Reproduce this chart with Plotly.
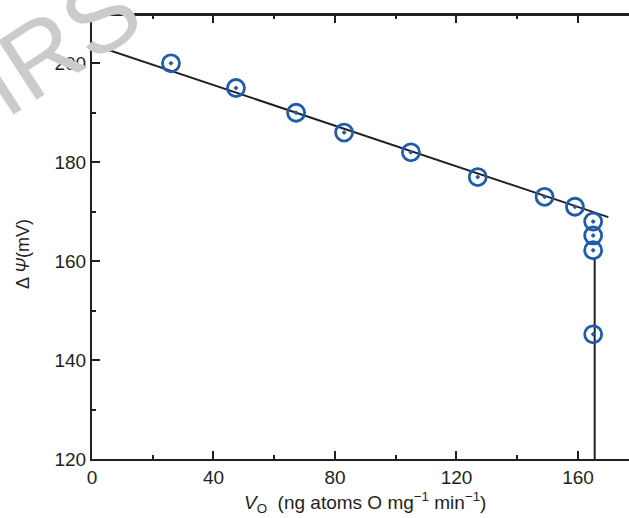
import plotly.graph_objects as go

# Data
vo = [26, 47.4, 67.2, 83, 105, 127, 149, 159, 165, 165, 165, 165]
psi = [200, 195, 190, 186, 182, 177, 173, 171, 168, 165.2, 162.2, 145.2]

fit_x = [0, 170]
fit_y = [203.8, 168.9]

vert_x = [165.5, 165.5]
vert_y = [160.6, 120]

x_ticks = [0, 40, 80, 120, 160]
y_ticks = [120, 140, 160, 180, 200]
x_range = [0, 176.8]
y_range = [120, 209.76]

FONT = "Liberation Sans, Arial, Helvetica, sans-serif"
BLUE = "#1f5cab"
INK = "#231f20"

fig = go.Figure()
fig.add_trace(go.Scatter(x=fit_x, y=fit_y, mode="lines",
                         line=dict(color=INK, width=2), showlegend=False))
fig.add_trace(go.Scatter(x=vert_x, y=vert_y, mode="lines",
                         line=dict(color=INK, width=2), showlegend=False))
fig.add_trace(go.Scatter(x=vo, y=psi, mode="markers",
                         marker=dict(symbol="circle-open-dot", size=17,
                                     color=BLUE, line=dict(color=BLUE, width=2.8)),
                         showlegend=False))

W, H = 629, 518
L, R, T, B = 92, 0, 15, 59
pw, ph = W - L - R, H - T - B

def px(xp):
    return (xp - L) / pw

def py(yp):
    return (H - B - yp) / ph

fig.update_layout(
    width=W, height=H,
    margin=dict(l=L, r=R, t=T, b=B, autoexpand=False),
    paper_bgcolor="white", plot_bgcolor="white",
    font=dict(family=FONT, size=19, color=INK),
    xaxis=dict(range=x_range, tickvals=x_ticks, ticktext=[str(v) for v in x_ticks],
               ticks="inside", ticklen=8, tickwidth=1.5, tickcolor=INK,
               showline=True, linecolor=INK, linewidth=2, mirror="allticks",
               showgrid=False, zeroline=False,
               minor=dict(dtick=20, tick0=0, ticks="inside", ticklen=4, tickcolor=INK, tickwidth=1.5, showgrid=False),
               tickfont=dict(size=19, family=FONT, color=INK)),
    yaxis=dict(range=y_range, tickvals=y_ticks, ticktext=[str(v) for v in y_ticks],
               ticks="inside", ticklen=8, tickwidth=1.5, tickcolor=INK,
               showline=True, linecolor=INK, linewidth=2,
               showgrid=False, zeroline=False,
               minor=dict(dtick=10, tick0=120, ticks="inside", ticklen=4, tickcolor=INK, tickwidth=1.5, showgrid=False),
               tickfont=dict(size=19, family=FONT, color=INK)),
    shapes=[dict(type="line", xref="paper", yref="paper", x0=0, x1=1, y0=1, y1=1,
                 line=dict(color=INK, width=2), layer="above")],
    annotations=[
        dict(text="IRS", x=px(58), y=py(44), xref="paper", yref="paper",
             showarrow=False, textangle=-33, font=dict(size=102, color="#cbcbcb", family=FONT),
             xanchor="center", yanchor="middle"),
        dict(text="Δ <i>Ψ</i>(mV)", x=px(23), y=py(254), xref="paper", yref="paper",
             showarrow=False, textangle=-90, font=dict(size=18, color=INK, family=FONT),
             xanchor="center", yanchor="middle"),
        dict(text="<i>V</i><sub>O</sub>  (ng atoms O mg<sup>−1</sup> min<sup>−1</sup>)",
             x=px(365), y=py(502), xref="paper", yref="paper",
             showarrow=False, font=dict(size=19, color=INK, family=FONT),
             xanchor="center", yanchor="middle"),
    ],
)

fig.write_html("out.html", config={"displayModeBar": False},
               post_script="document.body.style.margin='0';document.body.style.overflow='hidden';")
